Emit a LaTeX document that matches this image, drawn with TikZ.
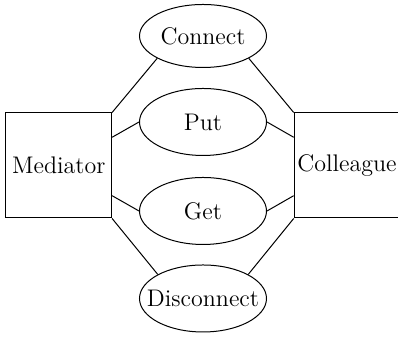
\documentclass[tikz,border=0pt]{standalone}
\usetikzlibrary{shapes.geometric}
\newcommand{\zw}[1]{\makebox[0pt]{#1}}
\begin{document}
\begin{tikzpicture}[x={(0.5pt,0)},y={(0,-0.5pt)},line width=0.5pt,
  usecase/.style={draw,ellipse,inner sep=0pt,minimum width=63.5pt,minimum height=33.5pt,font=\large},
  actor/.style={draw,rectangle,inner sep=0pt,minimum width=52.8pt,minimum height=52.5pt,font=\large}]
\useasboundingbox (0,0) rectangle (398,340);
\clip (0,0) rectangle (398,340);
\node[usecase,minimum height=31.5pt] (conn) at (203,36) {\zw{Connect}};
\node[usecase] (put) at (203,122) {\zw{Put}};
\node[usecase] (get) at (203,211) {\zw{Get}};
\node[usecase] (disc) at (203,298.5) {\zw{Disconnect}};
\node[actor] (med) at (58.8,165.5) {\zw{Mediator}};
\node[actor] (coll) at (347,165.5) {\zw{Colleague}};
\draw (med.north east) -- (conn.206);
\draw (coll.north west) -- (conn.334);
\draw (med.south east) -- (disc.152);
\draw (coll.south west) -- (disc.28);
\draw (med.north east |- 0,137.3) -- (put.west);
\draw (coll.north west |- 0,137.3) -- (put.east);
\draw (med.north east |- 0,195.7) -- (get.west);
\draw (coll.north west |- 0,195.7) -- (get.east);
\end{tikzpicture}
\end{document}
